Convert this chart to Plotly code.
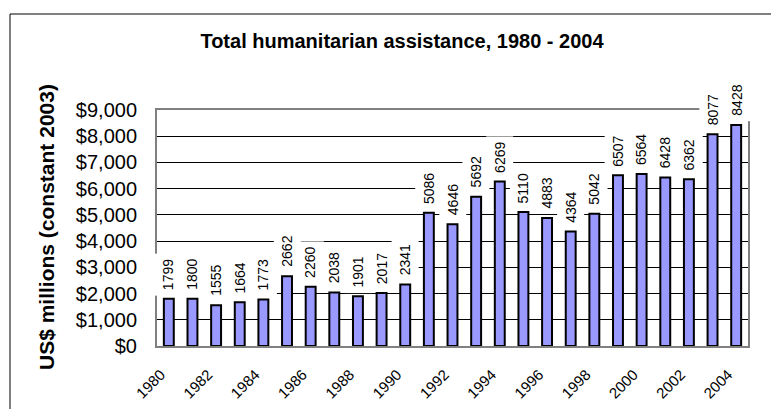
import plotly.graph_objects as go

years = list(range(1980, 2005))
values = [1799, 1800, 1555, 1664, 1773, 2662, 2260, 2038, 1901, 2017, 2341,
          5086, 4646, 5692, 6269, 5110, 4883, 4364, 5042, 6507, 6564, 6428,
          6362, 8077, 8428]
tick_years = list(range(1980, 2005, 2))
tick_labels = [str(y) for y in tick_years]
y_ticks = list(range(0, 9001, 1000))
y_tick_labels = ["$" + format(v, ",") for v in y_ticks]

title_text = "Total humanitarian assistance, 1980 - 2004"
ytitle_text = "US$ millions (constant 2003)"

FONT = "Arial, Liberation Sans, sans-serif"
W, H = 771, 409
L, R, T, B = 157, 23, 110, 63
pw, ph = W - L - R, H - T - B

def px_x(p):
    return (p - L) / pw

def px_y(p):
    return (H - B - p) / ph

fig = go.Figure()
fig.add_trace(go.Bar(
    x=years, y=values, width=0.42,
    marker=dict(color="#9999FF", line=dict(color="#000000", width=2)),
    hoverinfo="x+y",
))

for yr, v in zip(years, values):
    fig.add_annotation(
        x=yr, y=v, xref="x", yref="y", text=str(v), showarrow=False,
        textangle=-90, yanchor="bottom", xanchor="center",
        bgcolor="#FFFFFF", borderpad=5, yshift=3,
        font=dict(family=FONT, size=14, color="#000000"),
    )

# y-axis title
fig.add_annotation(
    x=px_x(46), y=px_y(227), xref="paper", yref="paper",
    text="<b>" + ytitle_text + "</b>", showarrow=False, textangle=-90,
    xanchor="center", yanchor="middle",
    font=dict(family=FONT, size=21, color="#000000"),
)

# outer chart frame (top and left edges visible)
fig.add_shape(type="line", xref="paper", yref="paper",
              x0=px_x(10), x1=px_x(10), y0=px_y(14), y1=px_y(500),
              line=dict(color="#000000", width=1))
fig.add_shape(type="line", xref="paper", yref="paper",
              x0=px_x(10), x1=px_x(900), y0=px_y(14), y1=px_y(14),
              line=dict(color="#000000", width=1))

fig.update_layout(
    width=W, height=H,
    margin=dict(l=L, r=R, t=T, b=B, pad=0, autoexpand=False),
    paper_bgcolor="#FFFFFF", plot_bgcolor="#FFFFFF",
    showlegend=False,
    title=dict(text="<b>" + title_text + "</b>", x=402 / W, xanchor="center",
               y=1 - 41 / H, yanchor="middle",
               font=dict(family=FONT, size=20, color="#000000")),
    font=dict(family=FONT, color="#000000"),
    xaxis=dict(
        range=[1979.5, 2004.5], tickmode="array", tickvals=tick_years,
        ticktext=tick_labels, tickangle=-45, showgrid=False, zeroline=False,
        showline=True, linecolor="#808080", linewidth=2, mirror=True,
        ticks="", ticklabelstandoff=12, ticklabelshift=-8, automargin=False,
        tickfont=dict(family=FONT, size=15, color="#000000"),
    ),
    yaxis=dict(
        range=[0, 9000], tickmode="array", tickvals=y_ticks,
        ticktext=y_tick_labels, showgrid=True, gridcolor="#000000",
        gridwidth=1, zeroline=False, showline=True, linecolor="#808080",
        linewidth=2, mirror=True, ticks="", ticklabelstandoff=14,
        automargin=False,
        tickfont=dict(family=FONT, size=20, color="#000000"),
    ),
)

fig.write_html("out.html")
